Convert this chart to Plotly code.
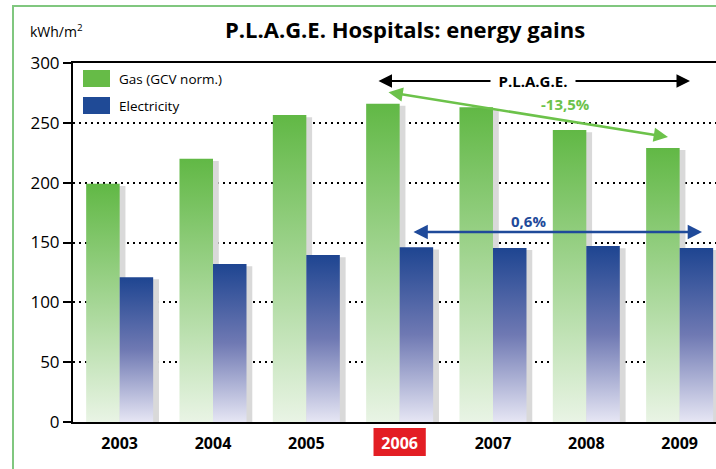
import plotly.graph_objects as go

# ---------------- data ----------------
years = ["2003", "2004", "2005", "2006", "2007", "2008", "2009"]
gas = [199, 220, 256.5, 266, 263, 244, 229]
electricity = [121, 132, 139.5, 146, 145.5, 147, 145.5]
series_names = ["Gas (GCV norm.)", "Electricity"]
y_ticks = [0, 50, 100, 150, 200, 250, 300]
plage_label = "P.L.A.G.E."
gas_change = "-13,5%"
elec_change = "0,6%"
highlight_year = "2006"

# ---------------- style ----------------
FONT = "Open Sans"
GREEN_TOP, GREEN_BOT = "#61b845", "#e9f4e5"
BLUE_TOP, BLUE_MID, BLUE_BOT = "#1e4591", "#6f79b3", "#e6e6f4"
GREEN_TXT = "#6cc24a"
BLUE_TXT = "#1f4a9a"
SHADOW = "#d9d9d9"
BORDER = "#80c77f"
RED = "#e31e24"

W, H = 716, 469
PX_L, PX_R, PX_T, PX_B = 73, 716, 63, 422
CAT_PX = 93.33
BAR_W = 0.359
SH_DX = 0.062
SH_DY = 1.8

x_hi = -0.5 + (PX_R - PX_L) / CAT_PX


def px2x(px):
    return (px - PX_L) / CAT_PX - 0.5


def py2y(py):
    return (PX_B - py) / (PX_B - PX_T) * 300.0


def px2paper(px):
    return (px - PX_L) / (PX_R - PX_L)


def py2paper(py):
    return (PX_B - py) / (PX_B - PX_T)


fig = go.Figure()

idx = list(range(len(years)))

# shadows
fig.add_trace(go.Bar(x=idx, y=[v - SH_DY for v in gas], offset=-BAR_W + SH_DX, width=BAR_W,
                     marker=dict(color=SHADOW, line=dict(width=0)), hoverinfo="skip", showlegend=False))
fig.add_trace(go.Bar(x=idx, y=[v - SH_DY for v in electricity], offset=SH_DX, width=BAR_W,
                     marker=dict(color=SHADOW, line=dict(width=0)), hoverinfo="skip", showlegend=False))


def grad_bar(i, v, x0, x1, cs):
    fig.add_trace(go.Scatter(
        x=[x0, x0, x1, x1, x0], y=[0, v, v, 0, 0], mode="lines",
        line=dict(width=0), fill="toself",
        fillgradient=dict(type="vertical", colorscale=cs, start=0, stop=v),
        hoverinfo="skip", showlegend=False))


for i, (g, e) in enumerate(zip(gas, electricity)):
    grad_bar(i, g, i - BAR_W, i, [[0, GREEN_BOT], [1, GREEN_TOP]])
    grad_bar(i, e, i, i + BAR_W, [[0, BLUE_BOT], [0.5, BLUE_MID], [1, BLUE_TOP]])

ticktext = [f'<b><span style="color:white">{y}</span></b>' if y == highlight_year else f"<b>{y}</b>"
            for y in years]

fig.update_layout(
    width=W, height=H,
    margin=dict(l=PX_L, r=W - PX_R, t=PX_T, b=H - PX_B),
    paper_bgcolor="white", plot_bgcolor="white",
    barmode="overlay",
    showlegend=False,
    font=dict(family=FONT, color="black"),
    title=dict(text="<b>P.L.A.G.E. Hospitals: energy gains</b>", x=405 / W, xanchor="center",
               y=1 - 30 / H, yanchor="middle", font=dict(size=22, family=FONT, color="black")),
    xaxis=dict(range=[-0.5, x_hi], tickvals=idx, ticktext=ticktext, showgrid=False,
               showline=True, linecolor="black", linewidth=2, mirror=True, zeroline=False,
               ticks="outside", ticklen=6, tickcolor="rgba(0,0,0,0)",
               tickfont=dict(size=16, family=FONT, color="black")),
    yaxis=dict(range=[0, 300], tickvals=y_ticks, showgrid=True, gridcolor="black", gridwidth=2,
               griddash="2px,4px", showline=True, linecolor="black", linewidth=2, zeroline=False,
               ticks="outside", ticklen=8, tickwidth=2, tickcolor="black",
               tickfont=dict(size=17, family=FONT, color="black")),
)

shapes = []
# outer green border
shapes.append(dict(type="rect", xref="paper", yref="paper",
                   x0=px2paper(13), x1=px2paper(W + 20), y0=py2paper(H + 20), y1=py2paper(6),
                   line=dict(color=BORDER, width=2), fillcolor="rgba(0,0,0,0)", layer="below"))
# highlight box behind 2006 tick label
hi = years.index(highlight_year)
shapes.append(dict(type="rect", xref="x", yref="paper", x0=hi - 0.28, x1=hi + 0.28,
                   y0=py2paper(456), y1=py2paper(428), fillcolor=RED, line=dict(width=0), layer="below"))
# legend swatches
shapes.append(dict(type="rect", xref="paper", yref="paper", x0=px2paper(83), x1=px2paper(110),
                   y0=py2paper(87), y1=py2paper(70), fillcolor="#66bb47", line=dict(width=0)))
shapes.append(dict(type="rect", xref="paper", yref="paper", x0=px2paper(83), x1=px2paper(110),
                   y0=py2paper(114), y1=py2paper(97), fillcolor="#1f4a96", line=dict(width=0)))
fig.update_layout(shapes=shapes)

ann = []
ann.append(dict(xref="paper", yref="paper", x=px2paper(28), y=py2paper(31), xanchor="left", yanchor="middle",
                text="kWh/m<sup>2</sup>", showarrow=False, font=dict(size=14, family=FONT, color="black")))
ann.append(dict(xref="paper", yref="paper", x=px2paper(117), y=py2paper(79), xanchor="left", yanchor="middle",
                text=series_names[0], showarrow=False, font=dict(size=13.5, family=FONT, color="black")))
ann.append(dict(xref="paper", yref="paper", x=px2paper(117), y=py2paper(106), xanchor="left", yanchor="middle",
                text=series_names[1], showarrow=False, font=dict(size=13.5, family=FONT, color="black")))

# P.L.A.G.E. double arrow
ann.append(dict(xref="x", yref="y", axref="x", ayref="y",
                x=px2x(690), y=py2y(81), ax=px2x(377), ay=py2y(81), text="",
                showarrow=True, arrowhead=2, startarrowhead=2, arrowside="end+start",
                arrowsize=1.35, startarrowsize=1.35, arrowwidth=2, arrowcolor="black"))
ann.append(dict(xref="x", yref="y", x=px2x(533), y=py2y(81), text=f"<b>{plage_label}</b>",
                showarrow=False, bgcolor="white", borderpad=0, width=84,
                font=dict(size=15, family=FONT, color="black")))

# gas change arrow
ann.append(dict(xref="x", yref="y", axref="x", ayref="y",
                x=px2x(668), y=py2y(137), ax=px2x(387), ay=py2y(92), text="",
                showarrow=True, arrowhead=2, startarrowhead=2, arrowside="end+start",
                arrowsize=1.1, startarrowsize=1.1, arrowwidth=2.6, arrowcolor=GREEN_TXT))
ann.append(dict(xref="x", yref="y", x=px2x(565), y=py2y(104), text=f"<b>{gas_change}</b>",
                showarrow=False, font=dict(size=15, family=FONT, color=GREEN_TXT)))

# electricity change arrow
ann.append(dict(xref="x", yref="y", axref="x", ayref="y",
                x=px2x(702), y=py2y(232), ax=px2x(412), ay=py2y(232), text="",
                showarrow=True, arrowhead=2, startarrowhead=2, arrowside="end+start",
                arrowsize=1.1, startarrowsize=1.1, arrowwidth=2.6, arrowcolor=BLUE_TXT))
ann.append(dict(xref="x", yref="y", x=px2x(528), y=py2y(221), text=f"<b>{elec_change}</b>",
                showarrow=False, font=dict(size=15, family=FONT, color=BLUE_TXT)))

fig.update_layout(annotations=ann)

fig.write_html(
    "out.html",
    config={"displayModeBar": False},
    post_script="document.body.style.margin='0px';document.body.style.overflow='hidden';",
)
